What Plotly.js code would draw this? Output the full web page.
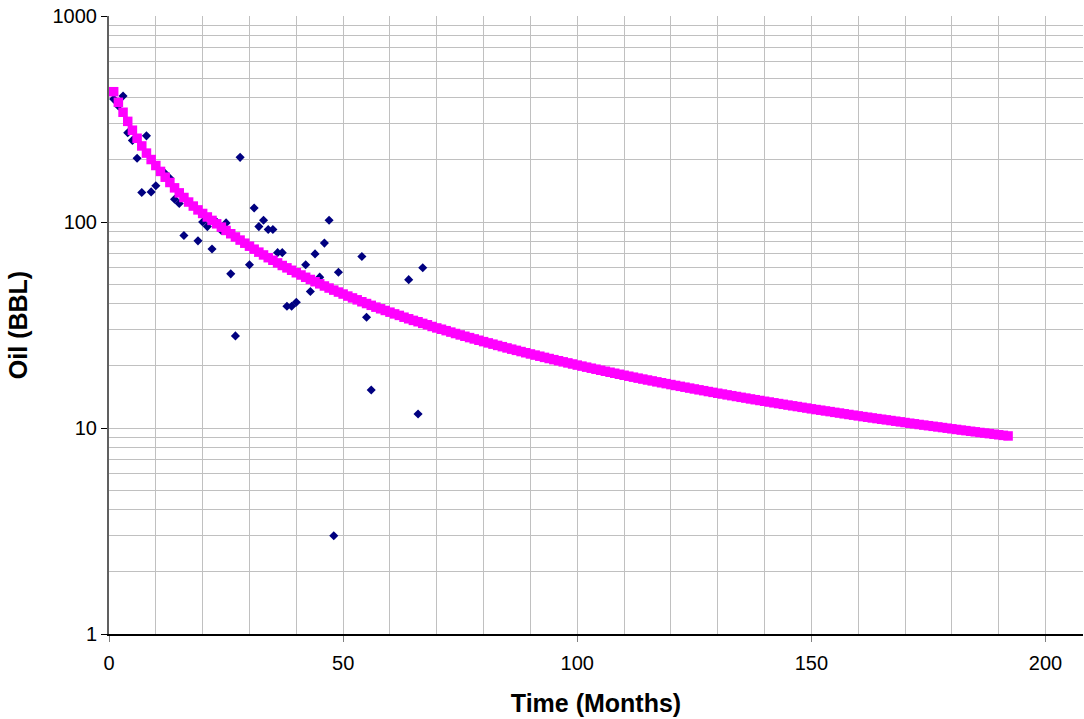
<!DOCTYPE html>
<html>
<head>
<meta charset="utf-8">
<script src="https://cdn.plot.ly/plotly-3.0.1.min.js"></script>
<style>
  html, body { margin: 0; padding: 0; background: #ffffff; }
  #chart { width: 1084px; height: 719px; }
</style>
</head>
<body>
<div id="chart"></div>
<script>
// Monthly oil production (BBL): actual readings
const actualMonths = [1, 2, 3, 4, 5, 6, 7, 8, 9, 10,
  12, 13, 14, 15, 16,
  19, 20, 21, 22, 23, 24, 25, 26, 27, 28,
  30, 31, 32, 33, 34, 35, 36, 37, 38, 39, 40,
  42, 43, 44, 45, 46, 47, 48, 49,
  54, 55, 56,
  64, 66, 67];
const actualOil = [395, 366, 409, 271, 249, 204, 139, 262, 140, 150,
  172, 163, 129, 123, 86,
  81, 100, 95, 74, 100, 91, 99, 56, 28, 206,
  62, 117, 95, 102, 92, 92, 71, 71, 39, 39, 40.8,
  62, 46, 70, 54, 79, 102, 3.0, 57,
  68, 34.5, 15.3,
  52.5, 11.7, 60];

// Decline-curve forecast, one value per month starting at month 1
const forecastOil = [
  429, 381, 341, 308, 279, 255, 234, 216, 201, 188,
  176, 165, 155.5, 146.5, 138.5, 131.5, 125, 119.5, 114.5, 110,
  105.8, 101.8, 98.0, 94.4, 91.0, 87.7, 84.6, 81.7, 78.9, 76.3,
  73.8, 71.4, 69.2, 67.1, 65.2, 63.3, 61.5, 59.9, 58.3, 56.7,
  55.3, 53.9, 52.6, 51.3, 50.1, 48.9, 47.8, 46.7, 45.7, 44.7,
  43.7, 42.8, 41.9, 41.0, 40.2, 39.4, 38.6, 37.9, 37.2, 36.5,
  35.8, 35.2, 34.5, 33.9, 33.3, 32.8, 32.2, 31.7, 31.1, 30.6,
  30.16, 29.68, 29.21, 28.75, 28.30, 27.88, 27.47, 27.06, 26.66, 26.26,
  25.89, 25.53, 25.17, 24.82, 24.47, 24.14, 23.82, 23.50, 23.19, 22.88,
  22.59, 22.31, 22.02, 21.74, 21.47, 21.21, 20.95, 20.70, 20.45, 20.20,
  19.97, 19.74, 19.51, 19.29, 19.07, 18.86, 18.65, 18.44, 18.23, 18.03,
  17.84, 17.65, 17.46, 17.28, 17.10, 16.93, 16.75, 16.58, 16.42, 16.25,
  16.09, 15.93, 15.78, 15.62, 15.47, 15.32, 15.18, 15.03, 14.89, 14.75,
  14.62, 14.48, 14.35, 14.22, 14.09, 13.97, 13.84, 13.72, 13.60, 13.48,
  13.37, 13.25, 13.14, 13.03, 12.92, 12.81, 12.71, 12.60, 12.50, 12.39,
  12.29, 12.20, 12.10, 12.01, 11.91, 11.82, 11.72, 11.63, 11.54, 11.45,
  11.36, 11.28, 11.19, 11.11, 11.03, 10.95, 10.87, 10.79, 10.71, 10.63,
  10.55, 10.48, 10.40, 10.33, 10.26, 10.19, 10.12, 10.05, 9.98, 9.91,
  9.84, 9.77, 9.71, 9.64, 9.58, 9.51, 9.45, 9.39, 9.33, 9.27,
  9.21, 9.15
];
const forecastMonths = forecastOil.map((_, i) => i + 1);

// Axis labels
const xTickVals = [0, 50, 100, 150, 200];
const yTickVals = [1, 10, 100, 1000];
const yTickText = ['1', '10', '100', '1000'];

// Minor log grid: 2..9 within each decade
const yMinorVals = [];
for (let d = 1; d <= 100; d *= 10) {
  for (let k = 2; k <= 9; k++) yMinorVals.push(k * d);
}

const gridColor = '#c0c0c0';
const labelFont = { family: 'Liberation Sans, Arial, sans-serif', size: 20, color: '#000000' };
const titleFont = { family: 'Liberation Sans, Arial, sans-serif', size: 25, color: '#000000' };

const traces = [
  {
    x: actualMonths,
    y: actualOil,
    type: 'scatter',
    mode: 'markers',
    name: 'Actual',
    marker: { symbol: 'diamond', size: 7, color: '#000080', line: { width: 0 } },
    hoverinfo: 'x+y'
  },
  {
    x: forecastMonths,
    y: forecastOil,
    type: 'scatter',
    mode: 'markers',
    name: 'Forecast',
    marker: { symbol: 'square', size: 9.5, color: '#ff00ff', line: { width: 0 } },
    hoverinfo: 'x+y'
  }
];

const layout = {
  width: 1084,
  height: 719,
  margin: { l: 109, r: 1, t: 16, b: 85 },
  paper_bgcolor: '#ffffff',
  plot_bgcolor: '#ffffff',
  showlegend: false,
  xaxis: {
    range: [0, 208],
    tickmode: 'array',
    tickvals: xTickVals,
    ticktext: xTickVals.map(String),
    showgrid: true,
    gridcolor: gridColor,
    gridwidth: 1,
    minor: { dtick: 10, tick0: 0, showgrid: true, gridcolor: gridColor, gridwidth: 1, ticks: '' },
    zeroline: false,
    showline: true,
    linecolor: '#000000',
    linewidth: 1.5,
    ticks: 'outside',
    ticklen: 6,
    tickcolor: '#808080',
    tickfont: labelFont,
    ticklabelstandoff: 4,
    title: { text: '<b>Time (Months)</b>', font: titleFont, standoff: 22 },
    automargin: false
  },
  yaxis: {
    type: 'log',
    range: [0, 3],
    tickmode: 'array',
    tickvals: yTickVals,
    ticktext: yTickText,
    showgrid: true,
    gridcolor: gridColor,
    gridwidth: 1,
    minor: { tickmode: 'array', tickvals: yMinorVals, showgrid: true, gridcolor: gridColor, gridwidth: 1, ticks: '' },
    zeroline: false,
    showline: true,
    linecolor: '#606060',
    linewidth: 2,
    ticks: 'outside',
    ticklen: 6,
    tickcolor: '#000000',
    tickfont: labelFont,
    title: { text: '<b>Oil (BBL)</b>', font: titleFont, standoff: 18 },
    automargin: false
  }
};

Plotly.newPlot('chart', traces, layout, { staticPlot: true, displayModeBar: false });
</script>
</body>
</html>
